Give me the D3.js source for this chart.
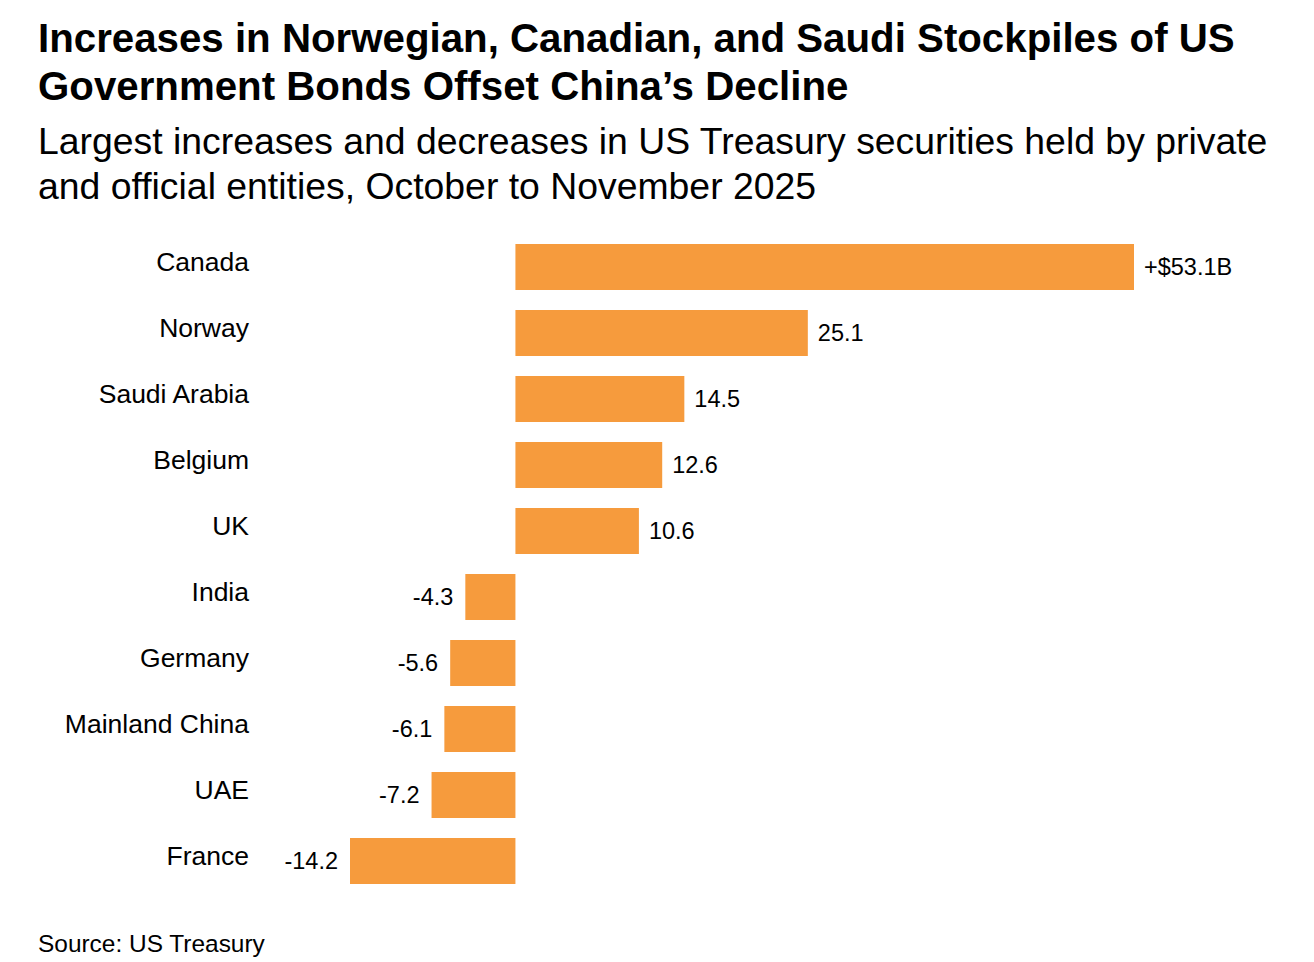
<!DOCTYPE html>
<html>
<head>
<meta charset="utf-8">
<script src="https://cdn.jsdelivr.net/npm/d3@7"></script>
<style>
  html, body { margin: 0; padding: 0; background: #fff; }
  svg { display: block; font-family: "Liberation Sans", Arial, Helvetica, sans-serif; }
</style>
</head>
<body>
<svg id="chart"></svg>
<script>
// data
let countries = ['Canada', 'Norway', 'Saudi Arabia', 'Belgium', 'UK', 'India', 'Germany', 'Mainland China', 'UAE', 'France']
let changes = [53.1, 25.1, 14.5, 12.6, 10.6, -4.3, -5.6, -6.1, -7.2, -14.2]
let valueLabels = ['+$53.1B', '25.1', '14.5', '12.6', '10.6', '-4.3', '-5.6', '-6.1', '-7.2', '-14.2']

let titleLines = ['Increases in Norwegian, Canadian, and Saudi Stockpiles of US', 'Government Bonds Offset China\u2019s Decline']
let subtitleLines = ['Largest increases and decreases in US Treasury securities held by private', 'and official entities, October to November 2025']
let sourceText = 'Source: US Treasury'

let width = 1314, height = 962
let barColor = '#f69b3d'

let svg = d3.select('#chart')
    .attr('width', width)
    .attr('height', height)
    .attr('viewBox', `0 0 ${width} ${height}`)

// shrink/grow a text's font so it spans the given width
function fitText(sel, target) {
    let node = sel.node()
    let fs = parseFloat(sel.attr('font-size'))
    let w = node.getComputedTextLength()
    sel.attr('font-size', fs * target / w)
}

let headG = svg.append('g').attr('id', 'headG')

titleLines.forEach((t, i) => {
    let txt = headG.append('text')
        .attr('class', 'title')
        .attr('x', 38)
        .attr('y', 52 + i * 48)
        .attr('font-size', 38)
        .attr('font-weight', 'bold')
        .attr('fill', '#000')
        .text(t)
    if (i == 0) fitText(txt, 1197)
})
// second title line uses the same size as the first
headG.selectAll('.title').attr('font-size', headG.select('.title').attr('font-size'))

subtitleLines.forEach((t, i) => {
    let txt = headG.append('text')
        .attr('class', 'sub')
        .attr('x', 38)
        .attr('y', 154 + i * 45)
        .attr('font-size', 33)
        .attr('fill', '#000')
        .text(t)
    if (i == 0) fitText(txt, 1230)
})
headG.selectAll('.sub').attr('font-size', headG.select('.sub').attr('font-size'))

// scales
let x = d3.scaleLinear()
    .domain([d3.min(changes), d3.max(changes)])
    .range([350, 1134])

let y = d3.scaleBand()
    .domain(countries)
    .range([244, 884])
    .paddingInner(0.303)
    .paddingOuter(0)

let rows = countries.map((c, i) => ({country: c, value: changes[i], label: valueLabels[i]}))

let barG = svg.append('g').attr('id', 'barG')

barG.selectAll('.bar')
    .data(rows)
    .enter().append('rect')
    .attr('class', 'bar')
    .attr('x', d => x(Math.min(0, d.value)))
    .attr('y', d => y(d.country))
    .attr('width', d => Math.abs(x(d.value) - x(0)))
    .attr('height', y.bandwidth())
    .attr('fill', barColor)

barG.selectAll('.catLabel')
    .data(rows)
    .enter().append('text')
    .attr('class', 'catLabel')
    .attr('x', 249)
    .attr('y', d => y(d.country) + y.bandwidth() / 2 + 4)
    .attr('text-anchor', 'end')
    .attr('font-size', 26.5)
    .attr('fill', '#000')
    .text(d => d.country)

barG.selectAll('.valLabel')
    .data(rows)
    .enter().append('text')
    .attr('class', 'valLabel')
    .attr('x', d => d.value >= 0 ? x(d.value) + 10 : x(d.value) - 12)
    .attr('y', d => y(d.country) + y.bandwidth() / 2 + 8)
    .attr('text-anchor', d => d.value >= 0 ? 'start' : 'end')
    .attr('font-size', 23.5)
    .attr('fill', '#000')
    .text(d => d.label)

let src = svg.append('text')
    .attr('x', 38)
    .attr('y', 952)
    .attr('font-size', 22)
    .attr('fill', '#000')
    .text(sourceText)
fitText(src, 227)
</script>
</body>
</html>
